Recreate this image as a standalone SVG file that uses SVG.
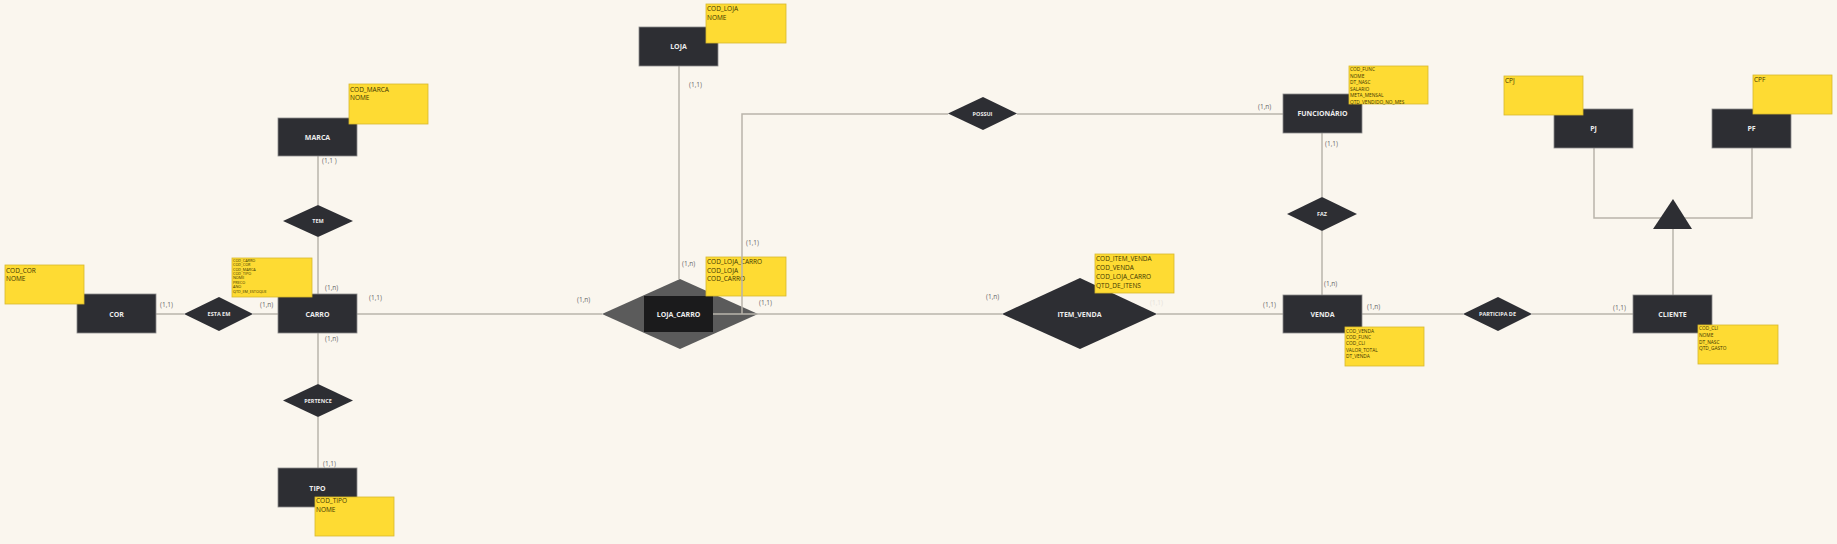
<svg xmlns="http://www.w3.org/2000/svg" width="1837" height="544" viewBox="0 0 1837 544">
<style>
.bg{fill:#faf6ee}
.ent{fill:#2d2e33;stroke:#8a8a8a;stroke-width:0.8}
.rel{fill:#2d2e33}
.note{fill:#fedb33;stroke:#d8b82e;stroke-width:0.8}
.lbl{font-family:"Open Sans","Noto Sans",sans-serif;font-weight:bold;fill:#ececec;text-anchor:middle;font-size:7px}
.rl{font-family:"Open Sans","Noto Sans",sans-serif;font-weight:bold;fill:#ececec;text-anchor:middle;font-size:5.5px}
.nt{font-family:"Open Sans","Noto Sans",sans-serif;fill:#3d3500;font-size:6.5px}
.ns{font-family:"Open Sans","Noto Sans",sans-serif;fill:#3d3500;font-size:4.8px}
.nxs{font-family:"Open Sans","Noto Sans",sans-serif;fill:#3d3500;font-size:3.8px}
.card{font-family:"Open Sans","Noto Sans",sans-serif;fill:#666;font-size:6.5px}
.ln{fill:none;stroke:#b9b4ab;stroke-width:1.5}
</style>
<rect class="bg" x="0" y="0" width="1837" height="544"/>

<g id="connectors">
<path class="ln" d="M156 314H184"/>
<path class="ln" d="M253 314H278"/>
<path class="ln" d="M318 156V205"/>
<path class="ln" d="M318 237V294"/>
<path class="ln" d="M318 333V384"/>
<path class="ln" d="M318 417V468"/>
<path class="ln" d="M357 314H602"/>
<path class="ln" d="M679 66V279"/>
<path class="ln" d="M1017 114H1283"/>
<path class="ln" d="M1322 133V197"/>
<path class="ln" d="M1322 231V295"/>
<path class="ln" d="M1157 314H1283"/>
<path class="ln" d="M1362 314H1463"/>
<path class="ln" d="M1532 314H1633"/>
<path class="ln" d="M1673 295V229"/>
<path class="ln" d="M1594 148V218H1752V148"/>
</g>

<g id="cor">
<rect class="ent" x="77" y="294" width="79" height="39"/>
<text class="lbl" x="116.5" y="316.5">COR</text>
</g>
<g id="esta_em">
<polygon class="rel" points="184,314 219,297 253,314 219,331"/>
<text class="rl" x="219" y="316">ESTA EM</text>
</g>
<g id="carro">
<rect class="ent" x="278" y="294" width="79" height="39"/>
<text class="lbl" x="317.5" y="316.5">CARRO</text>
</g>
<g id="marca">
<rect class="ent" x="278" y="118" width="79" height="38"/>
<text class="lbl" x="317.5" y="139.5">MARCA</text>
</g>
<g id="tem">
<polygon class="rel" points="283,221 318,205 353,221 318,237"/>
<text class="rl" x="318" y="223">TEM</text>
</g>
<g id="pertence">
<polygon class="rel" points="283,400.5 318,384 353,400.5 318,417"/>
<text class="rl" x="318" y="402.5">PERTENCE</text>
</g>
<g id="tipo">
<rect class="ent" x="278" y="468" width="79" height="39"/>
<text class="lbl" x="317.5" y="490.5">TIPO</text>
</g>
<g id="loja">
<rect class="ent" x="639" y="27" width="79" height="39"/>
<text class="lbl" x="678.5" y="49">LOJA</text>
</g>
<g id="loja_carro">
<polygon fill="#5b5b5b" points="602,314 680,279 758,314 680,349"/>
<rect fill="#1b1b1c" x="644" y="296" width="69" height="36"/>
<text class="lbl" x="678.5" y="316.5">LOJA_CARRO</text>
</g>
<g id="item_venda">
<polygon class="rel" points="1002,314 1080,278 1157,314 1080,349"/>
<text class="lbl" x="1079.5" y="316.5">ITEM_VENDA</text>
</g>
<g id="possui">
<polygon class="rel" points="948,113.5 983,97 1017,113.5 983,130"/>
<text class="rl" x="982.5" y="115.5">POSSUI</text>
</g>
<g id="funcionario">
<rect class="ent" x="1283" y="94" width="79" height="39"/>
<text class="lbl" x="1322.5" y="116">FUNCIONÁRIO</text>
</g>
<g id="faz">
<polygon class="rel" points="1287,214 1322,197 1357,214 1322,231"/>
<text class="rl" x="1322" y="216">FAZ</text>
</g>
<g id="venda">
<rect class="ent" x="1283" y="295" width="79" height="38"/>
<text class="lbl" x="1322.5" y="316.5">VENDA</text>
</g>
<g id="participa_de">
<polygon class="rel" points="1463,314 1498,297 1532,314 1498,331"/>
<text class="rl" x="1497.5" y="316">PARTICIPA DE</text>
</g>
<g id="cliente">
<rect class="ent" x="1633" y="295" width="79" height="38"/>
<text class="lbl" x="1672.5" y="316.5">CLIENTE</text>
</g>
<g id="pj">
<rect class="ent" x="1554" y="109" width="79" height="39"/>
<text class="lbl" x="1593.5" y="131">PJ</text>
</g>
<g id="pf">
<rect class="ent" x="1712" y="109" width="79" height="39"/>
<text class="lbl" x="1751.5" y="131">PF</text>
</g>
<g id="isa">
<polygon fill="#2d2e33" points="1673,199 1692,229 1653,229"/>
</g>

<g id="note_cor">
<rect class="note" x="5" y="265" width="79" height="39"/>
<text class="nt" x="6" y="272.5">COD_COR</text>
<text class="nt" x="6" y="281">NOME</text>
</g>
<g id="note_marca">
<rect class="note" x="349" y="84" width="79" height="40"/>
<text class="nt" x="350" y="91.5">COD_MARCA</text>
<text class="nt" x="350" y="100">NOME</text>
</g>
<g id="note_tipo">
<rect class="note" x="315" y="497" width="79" height="39"/>
<text class="nt" x="316" y="503">COD_TIPO</text>
<text class="nt" x="316" y="511.5">NOME</text>
</g>
<g id="note_loja">
<rect class="note" x="706" y="4" width="80" height="39"/>
<text class="nt" x="707" y="11">COD_LOJA</text>
<text class="nt" x="707" y="19.5">NOME</text>
</g>
<g id="note_carro">
<rect class="note" x="232" y="258" width="80" height="39"/>
<text class="nxs" x="233" y="261.7">COD_CARRO</text>
<text class="nxs" x="233" y="266.1">COD_COR</text>
<text class="nxs" x="233" y="270.6">COD_MARCA</text>
<text class="nxs" x="233" y="275">COD_TIPO</text>
<text class="nxs" x="233" y="279.4">NOME</text>
<text class="nxs" x="233" y="283.9">PRECO</text>
<text class="nxs" x="233" y="288.3">ANO</text>
<text class="nxs" x="233" y="292.8">QTD_EM_ESTOQUE</text>
</g>
<g id="note_loja_carro">
<rect class="note" x="706" y="257" width="80" height="39"/>
<text class="nt" x="707" y="264">COD_LOJA_CARRO</text>
<text class="nt" x="707" y="272.7">COD_LOJA</text>
<text class="nt" x="707" y="281">COD_CARRO</text>
</g>
<g id="note_item_venda">
<rect class="note" x="1095" y="254" width="79" height="39"/>
<text class="nt" x="1096" y="260.5">COD_ITEM_VENDA</text>
<text class="nt" x="1096" y="269.5">COD_VENDA</text>
<text class="nt" x="1096" y="278.5">COD_LOJA_CARRO</text>
<text class="nt" x="1096" y="287.5">QTD_DE_ITENS</text>
</g>
<g id="note_funcionario">
<rect class="note" x="1349" y="66" width="79" height="38"/>
<text class="ns" x="1350" y="70.8">COD_FUNC</text>
<text class="ns" x="1350" y="77.5">NOME</text>
<text class="ns" x="1350" y="84.1">DT_NASC</text>
<text class="ns" x="1350" y="90.8">SALARIO</text>
<text class="ns" x="1350" y="97.4">META_MENSAL</text>
<text class="ns" x="1350" y="103.9">QTD_VENDIDO_NO_MES</text>
</g>
<g id="note_venda">
<rect class="note" x="1345" y="327" width="79" height="39"/>
<text class="ns" x="1346" y="332.8">COD_VENDA</text>
<text class="ns" x="1346" y="339">COD_FUNC</text>
<text class="ns" x="1346" y="345.3">COD_CLI</text>
<text class="ns" x="1346" y="351.6">VALOR_TOTAL</text>
<text class="ns" x="1346" y="357.9">DT_VENDA</text>
</g>
<g id="note_cliente">
<rect class="note" x="1698" y="325" width="80" height="39"/>
<text class="ns" x="1699" y="330.1">COD_CLI</text>
<text class="ns" x="1699" y="337.1">NOME</text>
<text class="ns" x="1699" y="343.5">DT_NASC</text>
<text class="ns" x="1699" y="350.1">QTD_GASTO</text>
</g>
<g id="note_pj">
<rect class="note" x="1504" y="76" width="79" height="39"/>
<text class="nt" x="1505" y="83">CPJ</text>
</g>
<g id="note_pf">
<rect class="note" x="1753" y="75" width="79" height="39"/>
<text class="nt" x="1754" y="81.5">CPF</text>
</g>

<g id="connectors_over">
<path class="ln" d="M713 314H1002"/>
<path class="ln" d="M742 314V114H948"/>
</g>

<g id="cardinalities">
<text class="card" x="160" y="307">(1,1)</text>
<text class="card" x="260" y="307">(1,n)</text>
<text class="card" x="325" y="290">(1,n)</text>
<text class="card" x="369" y="300">(1,1)</text>
<text class="card" x="325" y="341">(1,n)</text>
<text class="card" x="322" y="163">(1,1 )</text>
<text class="card" x="323" y="466">(1,1)</text>
<text class="card" x="689" y="87">(1,1)</text>
<text class="card" x="682" y="266">(1,n)</text>
<text class="card" x="746" y="245">(1,1)</text>
<text class="card" x="759" y="305">(1,1)</text>
<text class="card" x="577" y="302">(1,n)</text>
<text class="card" x="986" y="299">(1,n)</text>
<text class="card" x="1150" y="305" fill="#e6e2da" style="fill:#e6e2da">(1,1)</text>
<text class="card" x="1263" y="307">(1,1)</text>
<text class="card" x="1367" y="309">(1,n)</text>
<text class="card" x="1324" y="286">(1,n)</text>
<text class="card" x="1325" y="146">(1,1)</text>
<text class="card" x="1258" y="109">(1,n)</text>
<text class="card" x="1613" y="310">(1,1)</text>
</g>
</svg>
